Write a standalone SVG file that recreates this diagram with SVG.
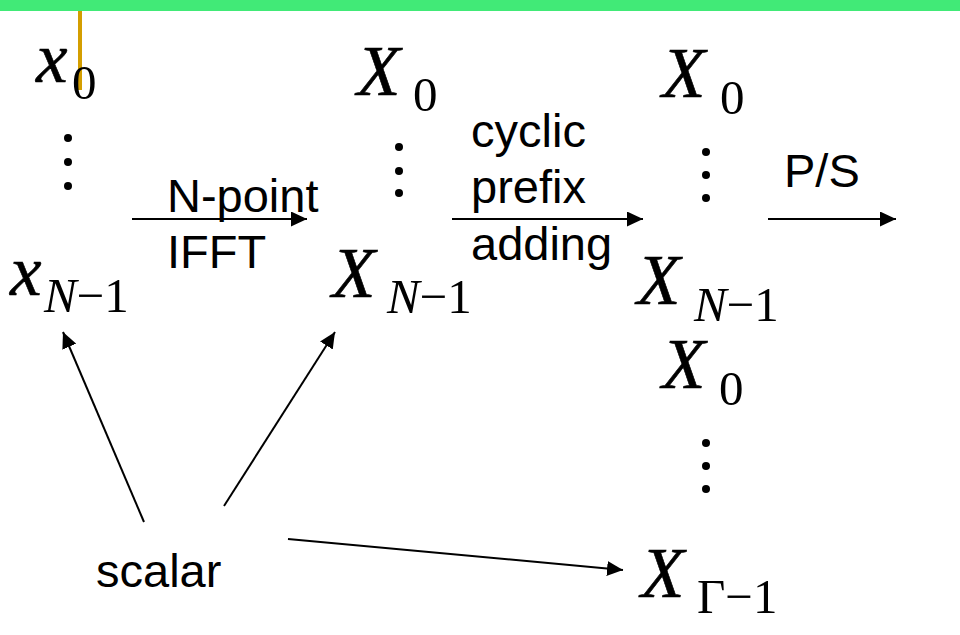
<svg xmlns="http://www.w3.org/2000/svg" width="960" height="635" viewBox="0 0 960 635">
<style>
.m{font-family:"Liberation Serif","Times New Roman",serif;font-size:71px;font-style:italic;fill:#000;stroke:#000;stroke-width:0.6}
.s{font-family:"Liberation Serif","Times New Roman",serif;font-size:49px;fill:#000}
.si{font-style:italic}
.t{font-family:"Liberation Sans",Arial,sans-serif;font-size:47px;fill:#000}
.c{stroke:#000;stroke-width:2;fill:none}
.d{fill:#000}
</style>
<defs>
<marker id="ah" markerUnits="userSpaceOnUse" markerWidth="16" markerHeight="15" refX="16" refY="7.5" orient="auto">
<path d="M0,0 L16,7.5 L0,15 z" fill="#000"/>
</marker>
</defs>
<rect x="0" y="0" width="960" height="635" fill="#fff"/>
<rect x="0" y="0" width="960" height="11" fill="#41EA77"/>
<line x1="80" y1="11" x2="80" y2="90" stroke="#D49E00" stroke-width="4"/>
<g id="x0"><text class="m" x="36" y="82">x</text><text class="s" x="72" y="99">0</text></g>
<g id="xdots"><circle class="d" cx="68" cy="138" r="4"/><circle class="d" cx="68" cy="162" r="4"/><circle class="d" cx="68" cy="186" r="4"/></g>
<g id="xN"><text class="m" x="10" y="295">x</text><text class="s" x="44" y="312"><tspan class="si">N</tspan>−1</text></g>
<g id="X0a"><text class="m" x="357" y="95">X</text><text class="s" x="413" y="111">0</text></g>
<g id="Xdotsa"><circle class="d" cx="399" cy="147" r="4"/><circle class="d" cx="399" cy="171" r="4"/><circle class="d" cx="399" cy="193" r="4"/></g>
<g id="XNa"><text class="m" x="332" y="297">X</text><text class="s" x="387" y="313"><tspan class="si">N</tspan>−1</text></g>
<g id="X0b"><text class="m" x="662" y="97">X</text><text class="s" x="720" y="114">0</text></g>
<g id="Xdotsb"><circle class="d" cx="706" cy="152" r="4"/><circle class="d" cx="706" cy="175" r="4"/><circle class="d" cx="706" cy="198" r="4"/></g>
<g id="XNb"><text class="m" x="637" y="304">X</text><text class="s" x="694" y="321"><tspan class="si">N</tspan>−1</text></g>
<g id="X0c"><text class="m" x="662" y="388">X</text><text class="s" x="719" y="405">0</text></g>
<g id="Xdotsc"><circle class="d" cx="706" cy="443" r="4"/><circle class="d" cx="706" cy="466" r="4"/><circle class="d" cx="706" cy="489" r="4"/></g>
<g id="XG"><text class="m" x="641" y="597">X</text><text class="s" x="697" y="613">Γ−1</text></g>
<g id="lbl1"><text class="t" x="167" y="212">N-point</text><text class="t" x="167" y="268">IFFT</text></g>
<g id="lbl2"><text class="t" x="471" y="147">cyclic</text><text class="t" x="471" y="203">prefix</text><text class="t" x="471" y="260">adding</text></g>
<g id="lbl3"><text class="t" x="784" y="187">P/S</text></g>
<g id="scalar"><text class="t" x="96" y="587">scalar</text></g>
<g id="connectors">
<line class="c" x1="132" y1="219" x2="307" y2="219" marker-end="url(#ah)"/>
<line class="c" x1="452" y1="219" x2="643" y2="219" marker-end="url(#ah)"/>
<line class="c" x1="768" y1="219" x2="896" y2="219" marker-end="url(#ah)"/>
<line class="c" x1="144" y1="522" x2="63" y2="332" marker-end="url(#ah)"/>
<line class="c" x1="224" y1="506" x2="335" y2="332" marker-end="url(#ah)"/>
<line class="c" x1="288" y1="539" x2="623" y2="570" marker-end="url(#ah)"/>
</g>
</svg>
